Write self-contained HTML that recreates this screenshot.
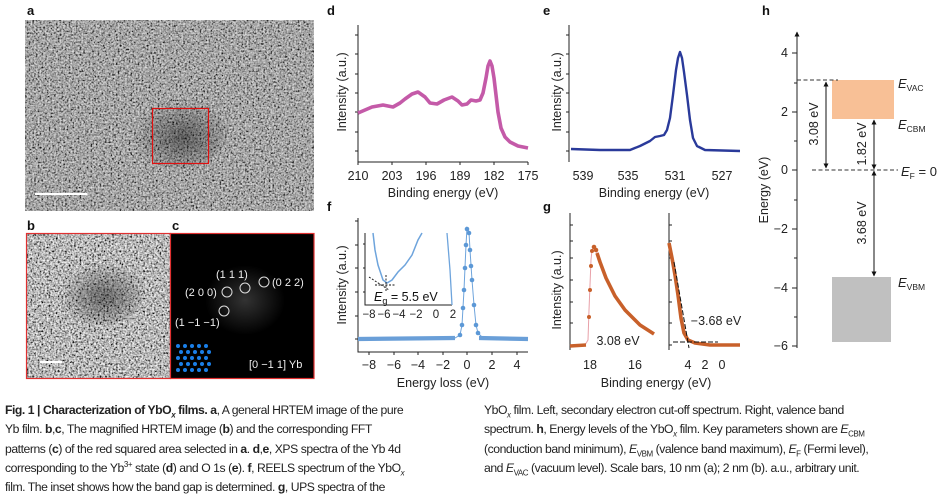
<!DOCTYPE html>
<html><head><meta charset="utf-8"><style>
body{margin:0;width:944px;height:497px;background:#fff;overflow:hidden;font-family:"Liberation Sans",sans-serif}
svg{position:absolute;left:0;top:0}
.cap{position:absolute;top:401px;font-family:"Liberation Sans",sans-serif;font-size:12.2px;line-height:19.3px;color:#222;letter-spacing:-0.45px;white-space:nowrap}
.cap b{font-weight:bold}
sub,sup{font-size:8px;line-height:0}
</style></head><body>
<svg width="944" height="400" viewBox="0 0 944 400" font-family="Liberation Sans, sans-serif">
<defs>
<filter id="n2" x="0" y="0" width="100%" height="100%"><feTurbulence type="fractalNoise" baseFrequency="0.55" numOctaves="2" seed="5"/><feColorMatrix type="saturate" values="0"/><feComponentTransfer><feFuncR type="linear" slope="2.6" intercept="-0.8"/><feFuncG type="linear" slope="2.6" intercept="-0.8"/><feFuncB type="linear" slope="2.6" intercept="-0.8"/><feFuncA type="linear" slope="0" intercept="1"/></feComponentTransfer></filter>
<filter id="n3" x="0" y="0" width="100%" height="100%"><feTurbulence type="fractalNoise" baseFrequency="0.55" numOctaves="2" seed="7"/><feColorMatrix type="saturate" values="0"/><feComponentTransfer><feFuncR type="linear" slope="2.4" intercept="-0.75"/><feFuncG type="linear" slope="2.4" intercept="-0.75"/><feFuncB type="linear" slope="2.4" intercept="-0.75"/><feFuncA type="linear" slope="0" intercept="1"/></feComponentTransfer></filter>
<radialGradient id="dk" cx="0.55" cy="0.6" r="0.5"><stop offset="0" stop-color="#000" stop-opacity="0.45"/><stop offset="1" stop-color="#000" stop-opacity="0"/></radialGradient>
<radialGradient id="gl" cx="0.5" cy="0.5" r="0.5"><stop offset="0" stop-color="#fff" stop-opacity="0.2"/><stop offset="1" stop-color="#fff" stop-opacity="0"/></radialGradient>
<marker id="ah" viewBox="0 0 10 10" refX="9" refY="5" markerWidth="5" markerHeight="5" orient="auto-start-reverse"><path d="M0,0L10,5L0,10z" fill="#111"/></marker>
</defs>
<g font-weight="bold" font-size="13" fill="#111">
<text x="27" y="15">a</text><text x="27" y="230">b</text><text x="172" y="230">c</text>
<text x="327" y="15">d</text><text x="543" y="15">e</text><text x="327" y="211">f</text><text x="543" y="211">g</text><text x="762" y="15">h</text>
</g>
<!-- a -->
<rect x="25" y="20" width="289" height="191" fill="#6e6e6e"/>
<rect x="25" y="20" width="289" height="191" filter="url(#n3)" opacity="0.8"/>
<ellipse cx="178" cy="130" rx="50" ry="38" fill="url(#dk)"/>
<rect x="152.5" y="108.5" width="56" height="55" fill="none" stroke="#e01010" stroke-width="1.2"/>
<rect x="35" y="193" width="52" height="2" fill="#fff"/>
<!-- b -->
<rect x="26" y="233" width="144" height="145" fill="#777"/>
<rect x="26" y="233" width="144" height="145" filter="url(#n2)" opacity="0.95"/>
<ellipse cx="100" cy="290" rx="45" ry="35" fill="url(#dk)"/>
<rect x="26.5" y="233.5" width="144" height="145" fill="none" stroke="#e03030" stroke-width="1.2"/>
<rect x="40" y="361" width="22" height="2" fill="#fff"/>
<!-- c -->
<rect x="170" y="233" width="144" height="145" fill="#000"/>
<ellipse cx="245" cy="300" rx="40" ry="35" fill="url(#gl)"/>
<rect x="170.5" y="233.5" width="143.5" height="145" fill="none" stroke="#e03030" stroke-width="1.2"/>
<g fill="none" stroke="#ddd" stroke-width="1"><circle cx="227" cy="292" r="5"/><circle cx="245" cy="288" r="5"/><circle cx="264" cy="282" r="5"/><circle cx="224" cy="311" r="5"/></g>
<g fill="#eee" font-size="11"><text x="216" y="278">(1 1 1)</text><text x="272" y="286">(0 2 2)</text><text x="185" y="296">(2 0 0)</text><text x="175" y="326">(1 −1 −1)</text><text x="249" y="368">[0 −1 1] Yb</text></g>
<g fill="#1a7fe8">
<circle cx="178" cy="346" r="2"/><circle cx="185" cy="346" r="2"/><circle cx="192" cy="346" r="2"/><circle cx="199" cy="346" r="2"/><circle cx="206" cy="346" r="2"/>
<circle cx="181" cy="352" r="2"/><circle cx="188" cy="352" r="2"/><circle cx="195" cy="352" r="2"/><circle cx="202" cy="352" r="2"/><circle cx="209" cy="352" r="2"/>
<circle cx="178" cy="358" r="2"/><circle cx="185" cy="358" r="2"/><circle cx="192" cy="358" r="2"/><circle cx="199" cy="358" r="2"/><circle cx="206" cy="358" r="2"/>
<circle cx="181" cy="364" r="2"/><circle cx="188" cy="364" r="2"/><circle cx="195" cy="364" r="2"/><circle cx="202" cy="364" r="2"/><circle cx="209" cy="364" r="2"/>
<circle cx="178" cy="370" r="2"/><circle cx="185" cy="370" r="2"/><circle cx="192" cy="370" r="2"/><circle cx="199" cy="370" r="2"/><circle cx="206" cy="370" r="2"/>
</g>
<!-- d -->
<g stroke="#222" stroke-width="1" fill="none">
<path d="M358,25V162H528"/>
<path d="M358,35h-3M358,54h-3M358,74h-3M358,93h-3M358,112h-3M358,132h-3M358,151h-3"/>
<path d="M358,162v3M392,162v3M426,162v3M460,162v3M494,162v3M528,162v3"/>
</g>
<polyline fill="none" stroke="#c45aa8" stroke-width="3.6" stroke-linejoin="round" points="358,113 372,107 383,105 393,107 400,103 405,99 412,94 418,92 425,97 430,103 437,104 444,100 452,97 458,101 462,105 467,104 471,100 476,101 480,100 483,93 486,78 488,66 490,61 492,66 494,78 496,95 498,112 501,128 505,137 510,142 518,146 528,148"/>
<g font-size="12.5" fill="#222" text-anchor="middle"><text x="358" y="180">210</text><text x="392" y="180">203</text><text x="426" y="180">196</text><text x="460" y="180">189</text><text x="494" y="180">182</text><text x="528" y="180">175</text>
<text x="443" y="197">Binding energy (eV)</text>
<text transform="translate(346,92) rotate(-90)">Intensity (a.u.)</text></g>
<!-- e -->
<g stroke="#222" stroke-width="1" fill="none">
<path d="M569,25V162"/>
<path d="M569,35h-3M569,54h-3M569,74h-3M569,93h-3M569,112h-3M569,132h-3M569,151h-3"/>
</g>
<polyline fill="none" stroke="#2a3a9a" stroke-width="2.4" stroke-linejoin="round" points="571,149 600,150 630,150 640,146 650,141 655,137 660,136 664,135 667,130 670,118 673,95 676,70 678,58 680,52 682,58 684,72 687,95 690,120 693,138 697,146 705,150 740,151"/>
<g font-size="12.5" fill="#222" text-anchor="middle"><text x="583" y="180">539</text><text x="628" y="180">535</text><text x="675" y="180">531</text><text x="722" y="180">527</text>
<text x="654" y="197">Binding energy (eV)</text>
<text transform="translate(561,92) rotate(-90)">Intensity (a.u.)</text></g>
<!-- f -->
<g stroke="#222" stroke-width="1" fill="none">
<path d="M358,218V352H528"/>
<path d="M358,221h-3M358,245h-3M358,268h-3M358,292h-3M358,316h-3M358,339h-3"/>
<path d="M369,352v3M394,352v3M418,352v3M443,352v3M467,352v3M492,352v3M517,352v3"/>
<path d="M365,233V305H452"/>
<path d="M365,244h-2M365,268h-2M365,292h-2"/>
</g>
<polyline fill="none" stroke="#6ea4dc" stroke-width="1" points="358,339 455,338 460,335 462,325 464,290 466,245 467,228 469,232 470,250 472,280 474,305 476,325 478,333 482,337 528,339"/>
<polyline fill="none" stroke="#6a9fd8" stroke-width="4.2" points="358,339 455,338"/>
<polyline fill="none" stroke="#6a9fd8" stroke-width="4.2" points="479,338 528,339"/>
<g fill="#5c98d6"><circle cx="460" cy="335" r="2.3"/><circle cx="462" cy="325" r="2.3"/><circle cx="463" cy="308" r="2.3"/><circle cx="464" cy="290" r="2.3"/><circle cx="465" cy="268" r="2.3"/><circle cx="466" cy="245" r="2.3"/><circle cx="467" cy="229" r="2.3"/><circle cx="469" cy="233" r="2.3"/><circle cx="470" cy="250" r="2.3"/><circle cx="471" cy="266" r="2.3"/><circle cx="472" cy="280" r="2.3"/><circle cx="474" cy="305" r="2.3"/><circle cx="476" cy="325" r="2.3"/><circle cx="478" cy="333" r="2.3"/></g>
<polyline fill="none" stroke="#6ea4dc" stroke-width="1.5" points="373,233 375,250 378,265 383,280 387,283 392,280 398,272 405,265 412,255 418,240 422,233"/>
<polyline fill="none" stroke="#6ea4dc" stroke-width="1.3" points="447,233 450,270 452,305"/>
<g stroke="#111" stroke-width="0.9" stroke-dasharray="2 1.5" fill="none"><path d="M369,277L389,290"/><path d="M375,285H396"/><path d="M386,275V292"/></g>
<text x="374" y="301" font-size="12.5" fill="#111"><tspan font-style="italic">E</tspan><tspan font-size="9" dy="3">g</tspan><tspan dy="-3"> = 5.5 eV</tspan></text>
<g font-size="11.5" fill="#222" text-anchor="middle"><text x="369" y="318">−8</text><text x="384" y="318">−6</text><text x="399" y="318">−4</text><text x="416" y="318">−2</text><text x="436" y="318">0</text><text x="453" y="318">2</text></g>
<g font-size="12.5" fill="#222" text-anchor="middle"><text x="369" y="369">−8</text><text x="394" y="369">−6</text><text x="418" y="369">−4</text><text x="443" y="369">−2</text><text x="467" y="369">0</text><text x="492" y="369">2</text><text x="517" y="369">4</text>
<text x="443" y="387">Energy loss (eV)</text>
<text transform="translate(346,285) rotate(-90)">Intensity (a.u.)</text></g>
<!-- g -->
<g stroke="#222" stroke-width="1" fill="none">
<path d="M570,213V350M669,213V350"/>
<path d="M570,225h3M570,241h3M570,258h3M570,280h3M570,302h3M570,323h3M570,345h3"/>
<path d="M669,225h3M669,241h3M669,258h3M669,280h3M669,302h3M669,323h3M669,345h3"/>
</g>
<polyline fill="none" stroke="#e8a0a8" stroke-width="1" points="570,346 585,345 588,340 589,310 590,285 591,260 592,250 594,247 596,250 600,262 606,278 615,296 625,310 640,325 654,334"/>
<polyline fill="none" stroke="#c8602a" stroke-width="3.4" points="570,346 586,345"/>
<g fill="#c8602a"><circle cx="589" cy="317" r="2"/><circle cx="590" cy="290" r="2"/><circle cx="591" cy="266" r="2"/><circle cx="592" cy="251" r="2"/><circle cx="594" cy="247" r="2.3"/><circle cx="596" cy="250" r="2.3"/></g>
<polyline fill="none" stroke="#c8602a" stroke-width="3.6" stroke-linejoin="round" points="597,253 600,262 606,278 615,296 625,310 640,325 654,334"/>
<polyline fill="none" stroke="#c8602a" stroke-width="3.6" stroke-linejoin="round" points="669,243 672,258 675,275 678,295 681,318 684,333 688,340 695,343 710,345 740,345"/>
<g stroke="#111" stroke-width="1" stroke-dasharray="5 2" fill="none"><path d="M673,342H718"/><path d="M674,262L689,348"/></g>
<g font-size="12.5" fill="#222" text-anchor="middle"><text x="590" y="369">18</text><text x="635" y="369">16</text><text x="688" y="369">4</text><text x="705" y="369">2</text><text x="722" y="369">0</text>
<text x="656" y="387">Binding energy (eV)</text>
<text x="618" y="345">3.08 eV</text>
<text x="716" y="325">−3.68 eV</text>
<text transform="translate(561,290) rotate(-90)">Intensity (a.u.)</text></g>
<!-- h -->
<rect x="832" y="80" width="62" height="39" fill="#f8c096"/>
<rect x="832" y="277" width="59" height="65" fill="#c0c0c0"/>
<g stroke="#222" stroke-width="1" fill="none">
<path d="M797,348V32" marker-end="url(#ah)"/>
<path d="M797,53h-5M797,112h-5M797,170h-5M797,229h-5M797,288h-5M797,346h-5"/>
<path d="M797,83h-3M797,141h-3M797,200h-3M797,258h-3M797,317h-3"/>
</g>
<g stroke="#333" stroke-width="1" stroke-dasharray="4 2.5"><path d="M797,80H838"/><path d="M812,170H898"/></g>
<g stroke="#111" stroke-width="1"><path d="M826,82V168" marker-start="url(#ah)" marker-end="url(#ah)"/><path d="M874,120V169" marker-start="url(#ah)" marker-end="url(#ah)"/><path d="M874,171V276" marker-start="url(#ah)" marker-end="url(#ah)"/></g>
<g font-size="12.5" fill="#222" text-anchor="end"><text x="788" y="57">4</text><text x="788" y="116">2</text><text x="788" y="174">0</text><text x="788" y="233">−2</text><text x="788" y="292">−4</text><text x="788" y="350">−6</text></g>
<g font-size="12.5" fill="#222" text-anchor="middle">
<text transform="translate(768,190) rotate(-90)">Energy (eV)</text>
<text transform="translate(818,124) rotate(-90)">3.08 eV</text>
<text transform="translate(866,144) rotate(-90)">1.82 eV</text>
<text transform="translate(866,223) rotate(-90)">3.68 eV</text>
</g>
<g font-size="13" fill="#222">
<text x="898" y="88"><tspan font-style="italic">E</tspan><tspan font-size="8.5" dy="3">VAC</tspan></text>
<text x="898" y="129"><tspan font-style="italic">E</tspan><tspan font-size="8.5" dy="3">CBM</tspan></text>
<text x="901" y="176"><tspan font-style="italic">E</tspan><tspan font-size="8.5" dy="3">F</tspan><tspan dy="-3"> = 0</tspan></text>
<text x="898" y="287"><tspan font-style="italic">E</tspan><tspan font-size="8.5" dy="3">VBM</tspan></text>
</g>
</svg>
<div class="cap" style="left:5px"><b>Fig. 1 | Characterization of YbO<sub><i>x</i></sub> films. a</b>, A general HRTEM image of the pure<br>Yb film. <b>b</b>,<b>c</b>, The magnified HRTEM image (<b>b</b>) and the corresponding FFT<br>patterns (<b>c</b>) of the red squared area selected in <b>a</b>. <b>d</b>,<b>e</b>, XPS spectra of the Yb 4d<br>corresponding to the Yb<sup>3+</sup> state (<b>d</b>) and O 1s (<b>e</b>). <b>f</b>, REELS spectrum of the YbO<sub><i>x</i></sub><br>film. The inset shows how the band gap is determined. <b>g</b>, UPS spectra of the</div>
<div class="cap" style="left:484px">YbO<sub><i>x</i></sub> film. Left, secondary electron cut-off spectrum. Right, valence band<br>spectrum. <b>h</b>, Energy levels of the YbO<sub><i>x</i></sub> film. Key parameters shown are <i>E</i><sub>CBM</sub><br>(conduction band minimum), <i>E</i><sub>VBM</sub> (valence band maximum), <i>E</i><sub>F</sub> (Fermi level),<br>and <i>E</i><sub>VAC</sub> (vacuum level). Scale bars, 10 nm (a); 2 nm (b). a.u., arbitrary unit.</div>
</body></html>
